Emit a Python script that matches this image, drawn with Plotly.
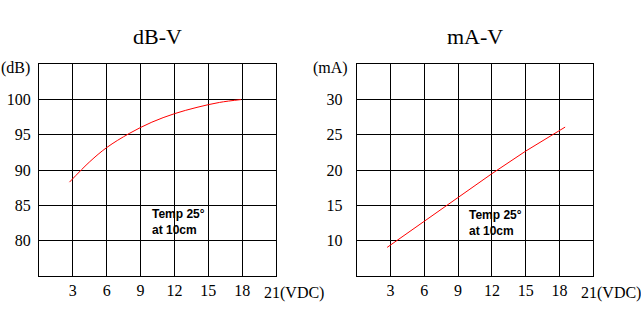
import plotly.graph_objects as go

# Sound pressure vs. supply voltage
db_volts = [2.7, 4.5, 6.0, 8.0, 10.0, 12.0, 14.0, 16.0, 17.9]
db_levels = [88.3, 91.2, 93.2, 95.2, 96.8, 98.0, 98.9, 99.6, 100.0]

# Current draw vs. supply voltage
ma_volts = [2.7, 6.0, 9.0, 12.0, 15.0, 18.5]
ma_currents = [9.05, 12.8, 16.1, 19.5, 22.7, 26.1]

volt_ticks = [3, 6, 9, 12, 15, 18]
db_ticks = [80, 85, 90, 95, 100]
ma_ticks = [10, 15, 20, 25, 30]

titles = ["dB-V", "mA-V"]
unit_labels = ["(dB)", "(mA)"]
note = "Temp 25°<br>at 10cm"

W, H = 641, 334
SERIF = "Liberation Serif, Times New Roman, serif"
SANS = "Liberation Sans, Arial, sans-serif"

fig = go.Figure()
fig.add_trace(go.Scatter(x=db_volts, y=db_levels, mode="lines", line=dict(color="#ff0000", width=1, shape="spline"),
                         xaxis="x", yaxis="y", showlegend=False, hoverinfo="skip"))
fig.add_trace(go.Scatter(x=ma_volts, y=ma_currents, mode="lines", line=dict(color="#ff0000", width=1),
                         xaxis="x2", yaxis="y2", showlegend=False, hoverinfo="skip"))

ydom = [1 - 276 / H, 1 - 64.3 / H]
xdoms = [[39 / W, 276 / W], [356.7 / W, 593.3 / W]]

axis_common = dict(showline=True, mirror=True, linecolor="black", linewidth=1,
                   showgrid=True, gridcolor="black", gridwidth=1, zeroline=False,
                   ticks="", fixedrange=True,
                   tickfont=dict(family=SERIF, size=16, color="black"))

fig.update_layout(
    width=W, height=H,
    margin=dict(l=0, r=0, t=0, b=0),
    paper_bgcolor="white", plot_bgcolor="white",
    xaxis=dict(domain=xdoms[0], range=[0, 21], tickvals=volt_ticks, anchor="y", **axis_common),
    yaxis=dict(domain=ydom, range=[75, 105], tickvals=db_ticks, anchor="x", ticklabelstandoff=4, **axis_common),
    xaxis2=dict(domain=xdoms[1], range=[0, 21], tickvals=volt_ticks, anchor="y2", **axis_common),
    yaxis2=dict(domain=ydom, range=[5, 35], tickvals=ma_ticks, anchor="x2", ticklabelstandoff=10, **axis_common),
)

for i, (xd, title, unit) in enumerate(zip(xdoms, titles, unit_labels)):
    xa = "x" if i == 0 else "x2"
    ya = "y" if i == 0 else "y2"
    # chart title
    fig.add_annotation(text=title, xref="paper", yref="paper",
                       x=(xd[0] + xd[1]) / 2, y=1 - 36.7 / H, xanchor="center", yanchor="middle",
                       showarrow=False, font=dict(family=SERIF, size=22, color="black"))
    # unit label at top-left of the value axis
    fig.add_annotation(text=unit, xref="paper", yref="paper",
                       x=xd[0] - 7 / W, y=1 - 68 / H, xanchor="right", yanchor="middle",
                       showarrow=False, font=dict(family=SERIF, size=16, color="black"))
    # last voltage tick with unit
    fig.add_annotation(text="21(VDC)", xref=xa, yref="paper",
                       x=21, y=1 - 293 / H, xanchor="left", yanchor="middle", xshift=-14,
                       showarrow=False, font=dict(family=SERIF, size=16, color="black"))
    # test conditions
    fig.add_annotation(text=note, xref=xa, yref=ya,
                       x=9.8, y=(82.6 if i == 0 else 12.56), xanchor="left", yanchor="middle", align="left",
                       showarrow=False, font=dict(family=SANS, size=12, color="black", weight="bold"))

fig.write_html("out.html")
